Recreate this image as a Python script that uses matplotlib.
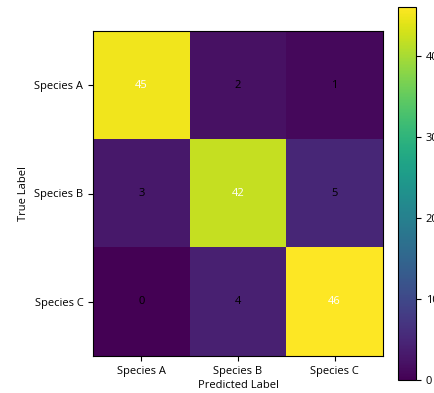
import numpy as np
import matplotlib
matplotlib.use("Agg")
import matplotlib.pyplot as plt

plt.rcParams["font.family"] = ["Open Sans", "DejaVu Sans"]

classes = ["Species A", "Species B", "Species C"]
cm = np.array([
    [45, 2, 1],
    [3, 42, 5],
    [0, 4, 46],
])

W, H = 434, 393
fig = plt.figure(figsize=(W / 100, H / 100), dpi=100)
ax = fig.add_axes([93 / W, 1 - 356 / H, 290 / W, 325 / H])
cax = fig.add_axes([398 / W, 1 - 380 / H, 18 / W, 373 / H])

im = ax.imshow(cm, cmap="viridis", aspect="auto", vmin=0, vmax=cm.max())
cb = fig.colorbar(im, cax=cax)
cb.set_ticks([0, 10, 20, 30, 40])
cb.ax.tick_params(labelsize=8)

ax.set_xticks(range(len(classes)))
ax.set_xticklabels(classes, fontsize=8)
ax.set_yticks(range(len(classes)))
ax.set_yticklabels(classes, fontsize=8)
ax.set_xlabel("Predicted Label", fontsize=8, labelpad=2)
ax.set_ylabel("True Label", fontsize=8)

# white text on the bright cells
thresh = cm.max() / 2
for i in range(cm.shape[0]):
    for j in range(cm.shape[1]):
        ax.text(j, i, str(cm[i, j]), ha="center", va="center", fontsize=8,
                color="white" if cm[i, j] > thresh else "black")

fig.savefig("out.png", dpi=100)
